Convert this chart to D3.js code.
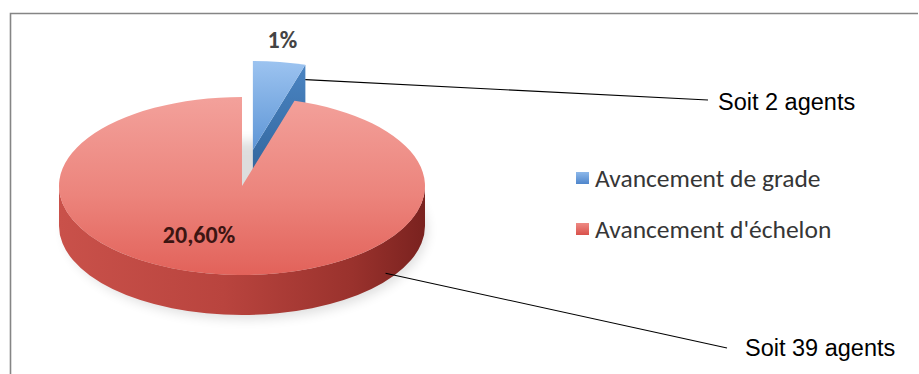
<!DOCTYPE html>
<html>
<head>
<meta charset="utf-8">
<script src="https://cdn.jsdelivr.net/npm/d3@7"></script>
<style>
  html, body { margin: 0; padding: 0; background: #fff; }
  svg { display: block; }
</style>
</head>
<body>
<svg id="chart" width="919" height="374"></svg>
<script>
// Share of promotions by type
const categories = ["Avancement de grade", "Avancement d'échelon"];
const percentValues = [1, 20.6];
const percentLabels = ["1%", "20,60%"];
const agentCounts = [2, 39];
const calloutLabels = agentCounts.map(n => "Soit " + n + " agents");

const W = 919, H = 374;
const svg = d3.select("#chart");

// 3D pie geometry (ellipse projection of a tilted disc)
const cx = 242, cy = 186, rx = 183, ry = 89, depth = 40;
const explode = 0.41;

const pie = d3.pie().sort(null).value(d => d).startAngle(0).endAngle(2 * Math.PI);
const arcs = pie(percentValues);

// angle measured clockwise from 12 o'clock
const pt = (a, dx = 0, dy = 0, z = 0) => [cx + dx + rx * Math.sin(a), cy + dy - ry * Math.cos(a) + z];
const centerPt = (dx = 0, dy = 0, z = 0) => [cx + dx, cy + dy + z];

function topPath(a0, a1, dx, dy) {
  const c = centerPt(dx, dy), p0 = pt(a0, dx, dy), p1 = pt(a1, dx, dy);
  const large = (a1 - a0) > Math.PI ? 1 : 0;
  return `M${c}L${p0}A${rx},${ry} 0 ${large} 1 ${p1}Z`;
}
function wallPath(a0, a1, dx, dy) {
  const am = (a0 + a1) / 2;
  const t0 = pt(a0, dx, dy), tm = pt(am, dx, dy), t1 = pt(a1, dx, dy);
  const b0 = pt(a0, dx, dy, depth), bm = pt(am, dx, dy, depth), b1 = pt(a1, dx, dy, depth);
  return `M${t0}A${rx},${ry} 0 0 1 ${tm}A${rx},${ry} 0 0 1 ${t1}L${b1}` +
         `A${rx},${ry} 0 0 0 ${bm}A${rx},${ry} 0 0 0 ${b0}Z`;
}
function cutFace(a, dx, dy) {
  const c = centerPt(dx, dy), p = pt(a, dx, dy);
  const pb = pt(a, dx, dy, depth), cb = centerPt(dx, dy, depth);
  return `M${c}L${p}L${pb}L${cb}Z`;
}

// gradients
const defs = svg.append("defs");
function linGrad(id, x1, y1, x2, y2, stops) {
  const g = defs.append("linearGradient").attr("id", id)
    .attr("x1", x1).attr("y1", y1).attr("x2", x2).attr("y2", y2);
  stops.forEach(([o, c]) => g.append("stop").attr("offset", o).attr("stop-color", c));
}
linGrad("redTop", 0, 0, 0, 1, [[0, "#f3a19b"], [0.55, "#ec847c"], [1, "#e2625a"]]);
linGrad("redSide", 0, 0, 1, 0, [[0, "#c9514a"], [0.45, "#b9443e"], [0.8, "#9a322d"], [1, "#7a221f"]]);
linGrad("blueTop", 0, 0, 0, 1, [[0, "#9cc3f0"], [1, "#5e96d6"]]);
linGrad("blueFace", 0, 0, 0, 1, [[0, "#4a84c2"], [1, "#2f6298"]]);
linGrad("legBlue", 0, 0, 0, 1, [[0, "#8db8ea"], [1, "#4f86cc"]]);
linGrad("legRed", 0, 0, 0, 1, [[0, "#ee8a84"], [1, "#d9514b"]]);
defs.append("filter").attr("id", "soft").attr("x", "-20%").attr("y", "-50%")
  .attr("width", "140%").attr("height", "200%")
  .append("feGaussianBlur").attr("stdDeviation", 6);

// frame
svg.append("path")
  .attr("d", `M10.5,${H}L10.5,13.5L918,13.5`)
  .attr("fill", "none").attr("stroke", "#858585").attr("stroke-width", 1.6);

// soft shadow under the disc
svg.append("ellipse")
  .attr("cx", cx + 4).attr("cy", cy + depth + 4).attr("rx", rx - 2).attr("ry", ry)
  .attr("fill", "#000").attr("opacity", 0.13).attr("filter", "url(#soft)");

// exploded slice (Avancement de grade)
const b = arcs[0];
const bm = (b.startAngle + b.endAngle) / 2;
const bdx = explode * rx * Math.sin(bm), bdy = -explode * ry * Math.cos(bm);
svg.append("path").attr("d", cutFace(b.endAngle, bdx, bdy)).attr("fill", "url(#blueFace)");
svg.append("path").attr("d", topPath(b.startAngle, b.endAngle, bdx, bdy)).attr("fill", "url(#blueTop)");

// main slice (Avancement d'échelon)
const r = arcs[1];
const w0 = Math.max(r.startAngle, Math.PI / 2), w1 = Math.min(r.endAngle, 3 * Math.PI / 2);
svg.append("path").attr("d", wallPath(w0, w1, 0, 0)).attr("fill", "url(#redSide)");
svg.append("path").attr("d", topPath(r.startAngle, r.endAngle, 0, 0)).attr("fill", "url(#redTop)");

// percentage labels
const calibri = "Carlito, Lato, 'Open Sans', sans-serif";
const pctPos = [
  { x: pt(bm, bdx, bdy)[0] + 3, y: 48, color: "#444", weight: 700 },
  { x: 199, y: 243, color: "#3c1512", weight: 600 }
];
percentLabels.forEach((t, i) => {
  svg.append("text").attr("x", pctPos[i].x).attr("y", pctPos[i].y)
    .attr("text-anchor", "middle").attr("font-family", calibri)
    .attr("font-size", 24).attr("font-weight", pctPos[i].weight).attr("fill", pctPos[i].color)
    .text(t);
});

// callouts
const anchors = [
  pt(b.endAngle, bdx, bdy, 15),
  pt(2.24, 0, 0, 32)
];
const calloutEnds = [[708, 100], [727, 348]];
const calloutText = [[718, 110], [745, 356]];
calloutLabels.forEach((t, i) => {
  svg.append("line")
    .attr("x1", anchors[i][0]).attr("y1", anchors[i][1])
    .attr("x2", calloutEnds[i][0]).attr("y2", calloutEnds[i][1])
    .attr("stroke", "#000").attr("stroke-width", 1.1);
  svg.append("text").attr("x", calloutText[i][0]).attr("y", calloutText[i][1])
    .attr("font-family", "'Liberation Sans', Arial, sans-serif").attr("font-size", 23.5)
    .attr("fill", "#000").text(t);
});

// legend
const legend = svg.append("g").attr("transform", "translate(576,0)");
const legFill = ["url(#legBlue)", "url(#legRed)"];
const legY = [187, 238];
categories.forEach((c, i) => {
  legend.append("rect").attr("x", 0).attr("y", legY[i] - 15).attr("width", 13).attr("height", 12)
    .attr("fill", legFill[i]);
  legend.append("text").attr("x", 19).attr("y", legY[i])
    .attr("font-family", calibri).attr("font-size", 25.5).attr("fill", "#363636")
    .text(c);
});
</script>
</body>
</html>
